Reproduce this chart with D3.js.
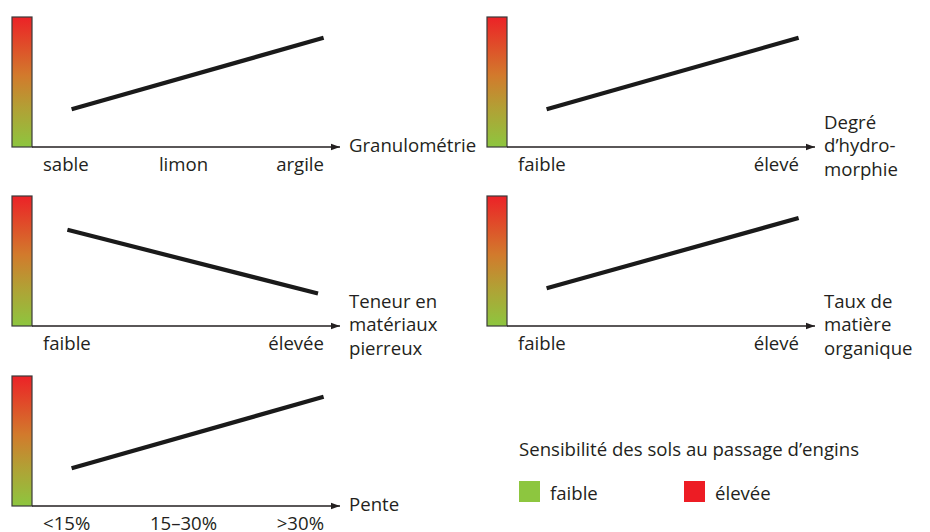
<!DOCTYPE html>
<html>
<head>
<meta charset="utf-8">
<script src="https://cdn.jsdelivr.net/npm/d3@7"></script>
<style>
  body { margin: 0; background: #fff; }
  svg text { font-family: "Open Sans", "Noto Sans", sans-serif; fill: #231f20; }
</style>
</head>
<body>
<svg id="chart"></svg>
<script>
const width = 930
const height = 532

// one entry per panel, reading order
const panelTitles = [
    ["Granulométrie"],
    ["Degré", "d’hydro-", "morphie"],
    ["Teneur en", "matériaux", "pierreux"],
    ["Taux de", "matière", "organique"],
    ["Pente"]
]
const panelTicks = [
    ["sable", "limon", "argile"],
    ["faible", "élevé"],
    ["faible", "élevée"],
    ["faible", "élevé"],
    ["<15%", "15–30%", ">30%"]
]
// sensitivity (0 = faible, 1 = élevée) at the start and end of each trend line
const sensStart = [0.29, 0.29, 0.74, 0.29, 0.29]
const sensEnd = [0.84, 0.84, 0.25, 0.83, 0.84]
// where the trend line starts / ends along the x axis (0..1)
const xStart = [0.07, 0.07, 0.055, 0.07, 0.07]
const xEnd = [0.97, 0.97, 0.95, 0.97, 0.97]

const legendTitle = "Sensibilité des sols au passage d’engins"
const legendLabels = ["faible", "élevée"]
const legendColors = ["#8dc63f", "#ed1c24"]

const colX = [12, 487]
const rowTop = [17, 196, 376]
const barW = 20
const barH = 130
const axisLen = 328
const fontSize = 18.6

const svg = d3.select("#chart").attr("width", width).attr("height", height)

const defs = svg.append("defs")
const grad = defs.append("linearGradient")
    .attr("id", "sens")
    .attr("x1", 0).attr("y1", 1).attr("x2", 0).attr("y2", 0)
grad.selectAll("stop")
    .data([
        { o: "0%", c: "#8dc63f" },
        { o: "30%", c: "#b2a035" },
        { o: "55%", c: "#d27a2c" },
        { o: "100%", c: "#ec2227" }
    ])
    .join("stop")
    .attr("offset", (d) => d.o)
    .attr("stop-color", (d) => d.c)

defs.append("marker")
    .attr("id", "arrow")
    .attr("viewBox", "0 0 10 10")
    .attr("refX", 10).attr("refY", 5)
    .attr("markerWidth", 9).attr("markerHeight", 9)
    .attr("markerUnits", "userSpaceOnUse")
    .attr("orient", "auto")
    .append("path")
    .attr("d", "M0,1.5 L10,5 L0,8.5 Z")
    .attr("fill", "#231f20")

panelTitles.forEach((title, i) => {
    const x0 = colX[i % 2]
    const y0 = rowTop[Math.floor(i / 2)]
    const g = svg.append("g").attr("transform", `translate(${x0},${y0})`)

    const y = d3.scaleLinear().domain([0, 1]).range([barH, 0])
    const x = d3.scaleLinear().domain([0, 1]).range([barW + 20, axisLen - 8])

    // gradient bar
    g.append("rect")
        .attr("x", 0).attr("y", 0)
        .attr("width", barW).attr("height", barH)
        .attr("fill", "url(#sens)")
        .attr("stroke", "#3a3a3a")
        .attr("stroke-width", 1.2)

    // x axis with arrow
    g.append("line")
        .attr("x1", barW).attr("x2", axisLen)
        .attr("y1", barH).attr("y2", barH)
        .attr("stroke", "#231f20")
        .attr("stroke-width", 1.4)
        .attr("marker-end", "url(#arrow)")

    // trend line
    g.append("path")
        .datum([[xStart[i], sensStart[i]], [xEnd[i], sensEnd[i]]])
        .attr("d", d3.line().x((d) => x(d[0])).y((d) => y(d[1])))
        .attr("fill", "none")
        .attr("stroke", "#1a1a1a")
        .attr("stroke-width", 4.2)

    // tick labels: first left-aligned, last right-aligned, others centred
    const ticks = panelTicks[i]
    const tx = d3.scalePoint().domain(ticks).range([barW + 11, axisLen - 16])
    g.selectAll(".tick")
        .data(ticks)
        .join("text")
        .attr("class", "tick")
        .attr("x", (d) => tx(d))
        .attr("y", barH + 24)
        .attr("font-size", fontSize)
        .attr("text-anchor", (d, k) => (k === 0 ? "start" : k === ticks.length - 1 ? "end" : "middle"))
        .text((d) => d)

    // axis title, middle line centred on the axis
    const mid = (title.length - 1) / 2
    g.selectAll(".title")
        .data(title)
        .join("text")
        .attr("class", "title")
        .attr("x", axisLen + 9)
        .attr("y", (d, k) => barH + 5 + (k - mid) * 23.5)
        .attr("font-size", fontSize)
        .text((d) => d)
})

// legend
const legend = svg.append("g").attr("transform", "translate(519,456)")
legend.append("text")
    .attr("font-size", fontSize)
    .text(legendTitle)
const items = legend.selectAll(".item")
    .data(legendLabels)
    .join("g")
    .attr("class", "item")
    .attr("transform", (d, k) => `translate(${k * 165},0)`)
items.append("rect")
    .attr("x", 0).attr("y", 25)
    .attr("width", 21).attr("height", 21)
    .attr("fill", (d, k) => legendColors[k])
items.append("text")
    .attr("x", 31).attr("y", 44)
    .attr("font-size", fontSize)
    .text((d) => d)
</script>
</body>
</html>
